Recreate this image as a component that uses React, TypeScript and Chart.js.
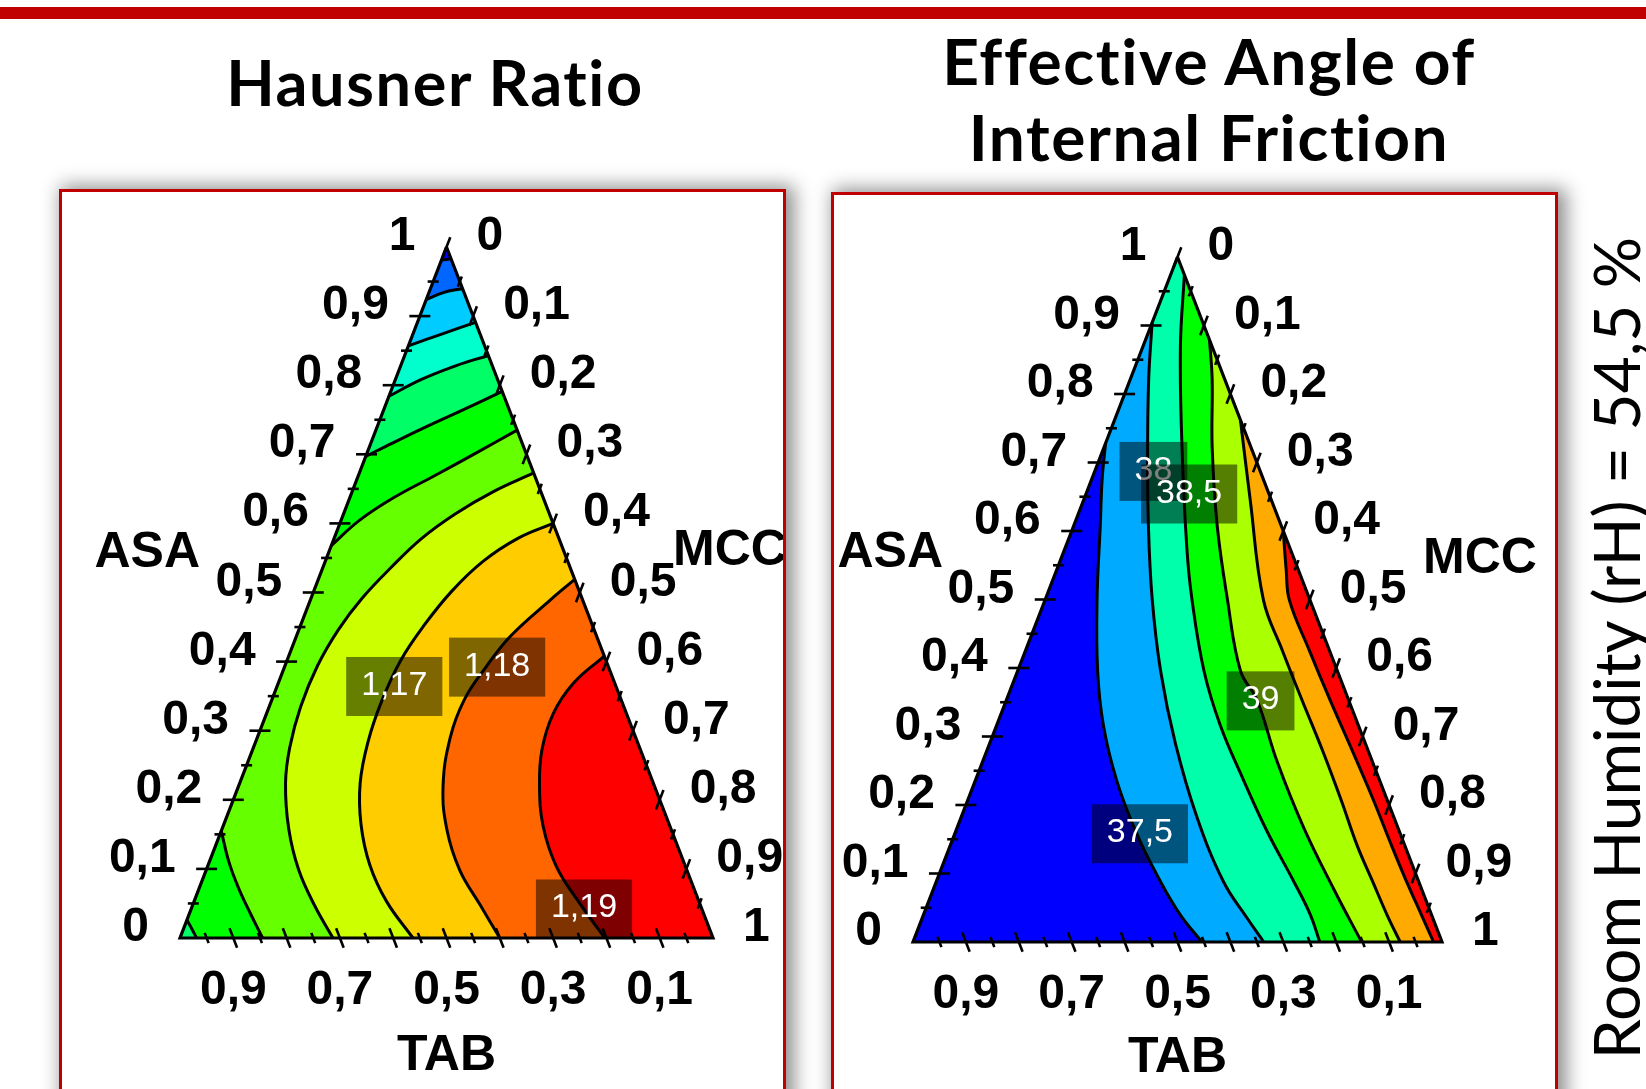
import React, { useEffect, useRef } from "react";
import { Chart, registerables } from "chart.js";

Chart.register(...registerables);

type Pt = [number, number]; // [ASA fraction, MCC fraction]; TAB = 1 - ASA - MCC

// ================= ternary axis ticks and labels =================
const ASA_TICK_VALUES = [0.05, 0.1, 0.15, 0.2, 0.25, 0.3, 0.35, 0.4, 0.45, 0.5, 0.55, 0.6, 0.65, 0.7, 0.75, 0.8, 0.85, 0.9, 0.95];
const MCC_TICK_VALUES = [0, 0.05, 0.1, 0.15, 0.2, 0.25, 0.3, 0.35, 0.4, 0.45, 0.5, 0.55, 0.6, 0.65, 0.7, 0.75, 0.8, 0.85, 0.9, 0.95];
const TAB_TICK_VALUES = [0.05, 0.1, 0.15, 0.2, 0.25, 0.3, 0.35, 0.4, 0.45, 0.5, 0.55, 0.6, 0.65, 0.7, 0.75, 0.8, 0.85, 0.9, 0.95];
const ASA_LABEL_VALUES = [0, 0.1, 0.2, 0.3, 0.4, 0.5, 0.6, 0.7, 0.8, 0.9, 1];
const ASA_LABELS = ["0", "0,1", "0,2", "0,3", "0,4", "0,5", "0,6", "0,7", "0,8", "0,9", "1"];
const MCC_LABEL_VALUES = [0, 0.1, 0.2, 0.3, 0.4, 0.5, 0.6, 0.7, 0.8, 0.9, 1];
const MCC_LABELS = ["0", "0,1", "0,2", "0,3", "0,4", "0,5", "0,6", "0,7", "0,8", "0,9", "1"];
const TAB_LABEL_VALUES = [0.9, 0.7, 0.5, 0.3, 0.1];
const TAB_LABELS = ["0,9", "0,7", "0,5", "0,3", "0,1"];

// ================= Hausner Ratio contour lines ([ASA, MCC]) =================
const hr110: Pt[] = [[0.981, 0], [0.982, 0.009], [0.983, 0.017]];
const hr111: Pt[] = [[0.924, 0], [0.934, 0.027], [0.94, 0.06]];
const hr112: Pt[] = [[0.857, 0], [0.874, 0.054], [0.891, 0.109]];
const hr113: Pt[] = [[0.784, 0], [0.808, 0.048], [0.828, 0.103], [0.843, 0.157]];
const hr114a: Pt[] = [[0.697, 0], [0.717, 0.042], [0.741, 0.095], [0.766, 0.153], [0.791, 0.209]];
const hr115a: Pt[] = [[0.568, 0], [0.604, 0.034], [0.637, 0.082], [0.669, 0.143], [0.702, 0.205], [0.735, 0.265]];
const hr116: Pt[] = [
  [0.673, 0.327], [0.646, 0.265], [0.614, 0.21], [0.578, 0.164], [0.535, 0.127], [0.492, 0.096],
  [0.446, 0.074], [0.394, 0.061], [0.335, 0.059], [0.276, 0.068], [0.224, 0.086], [0.158, 0.125],
  [0.099, 0.173], [0.047, 0.229], [0, 0.287],
];
const hr117: Pt[] = [
  [0.6, 0.4], [0.578, 0.344], [0.545, 0.296], [0.502, 0.259], [0.453, 0.232], [0.401, 0.213],
  [0.342, 0.207], [0.283, 0.211], [0.224, 0.226], [0.165, 0.257], [0.106, 0.303], [0.053, 0.361], [0, 0.437],
];
const hr118: Pt[] = [
  [0.519, 0.481], [0.489, 0.45], [0.436, 0.401], [0.392, 0.378], [0.345, 0.361], [0.29, 0.362],
  [0.219, 0.384], [0.156, 0.423], [0.098, 0.476], [0.048, 0.539], [0, 0.6],
];
const hr119: Pt[] = [
  [0.408, 0.592], [0.369, 0.554], [0.325, 0.538], [0.272, 0.543], [0.219, 0.565], [0.161, 0.601],
  [0.103, 0.655], [0.05, 0.725], [0, 0.797],
];
const hr115b: Pt[] = [[0.155, 0], [0.112, 0.035], [0.073, 0.073], [0.034, 0.116], [0, 0.155]];
const hr114b: Pt[] = [[0.026, 0], [0.012, 0.017], [0, 0.031]];

const HR_LABEL_LEVELS = [1.17, 1.18, 1.19];
const HR_LABEL_POSITIONS: Pt[] = [[0.364, 0.22], [0.392, 0.399], [0.042, 0.737]];

// ============ Effective Angle of Internal Friction contour lines ============
const fa375: Pt[] = [
  [0.728, 0], [0.675, 0.02], [0.608, 0.05], [0.502, 0.097], [0.396, 0.151], [0.316, 0.202],
  [0.236, 0.267], [0.157, 0.345], [0.088, 0.424], [0.04, 0.485], [0, 0.546],
];
const fa380: Pt[] = [
  [0.904, 0], [0.821, 0.035], [0.715, 0.086], [0.608, 0.141], [0.502, 0.201], [0.396, 0.27],
  [0.29, 0.351], [0.183, 0.445], [0.088, 0.543], [0.035, 0.614], [0, 0.663],
];
const fa385: Pt[] = [
  [0.974, 0.026], [0.869, 0.071], [0.723, 0.147], [0.577, 0.229], [0.502, 0.276], [0.396, 0.352],
  [0.316, 0.423], [0.236, 0.507], [0.162, 0.588], [0.088, 0.676], [0.04, 0.731], [0, 0.769],
];
const fa390: Pt[] = [
  [0.879, 0.121], [0.821, 0.155], [0.723, 0.204], [0.608, 0.271], [0.502, 0.343], [0.396, 0.421],
  [0.353, 0.474], [0.263, 0.557], [0.167, 0.655], [0.077, 0.757], [0, 0.848],
];
const fa395: Pt[] = [
  [0.762, 0.238], [0.645, 0.315], [0.499, 0.413], [0.426, 0.485], [0.353, 0.559], [0.28, 0.634],
  [0.207, 0.706], [0.141, 0.769], [0.09, 0.823], [0.039, 0.877], [0, 0.921],
];
const fa400: Pt[] = [
  [0.6, 0.4], [0.543, 0.434], [0.499, 0.462], [0.426, 0.536], [0.353, 0.612], [0.28, 0.69],
  [0.207, 0.767], [0.141, 0.834], [0.09, 0.887], [0.039, 0.942], [0, 0.984],
];

const FA_LABEL_LEVELS = [37.5, 38, 38.5, 39];
const FA_LABEL_POSITIONS: Pt[] = [[0.158, 0.35], [0.687, 0.111], [0.654, 0.195], [0.352, 0.481]];

// ================= panel descriptions =================
type Corner = "T" | "BL" | "BR";
interface Region { line: Pt[]; corner: Corner; color: string }
interface Panel {
  key: string;
  box: { left: number; top: number; width: number; height: number };
  pad: { left: number; right: number; top: number; bottom: number };
  baseColor: string;
  regions: Region[];
  lines: Pt[][];
  labelLevels: number[];
  labelPositions: Pt[];
  asaTitle: { dx: number; dy: number };
  mccTitle: { dx: number; dy: number };
  tabTitle: { dy: number };
}

const PANELS: Panel[] = [
  {
    key: "hausner",
    box: { left: 59, top: 189, width: 727, height: 960 },
    pad: { left: 118, right: 70, top: 55, bottom: 208 },
    baseColor: "#66FF00",
    regions: [
      { line: hr116, corner: "BR", color: "#CCFF00" },
      { line: hr117, corner: "BR", color: "#FFCC00" },
      { line: hr118, corner: "BR", color: "#FF6600" },
      { line: hr119, corner: "BR", color: "#FF0000" },
      { line: hr115a, corner: "T", color: "#00FF00" },
      { line: hr114a, corner: "T", color: "#00FF66" },
      { line: hr113, corner: "T", color: "#00FFCC" },
      { line: hr112, corner: "T", color: "#00CCFF" },
      { line: hr111, corner: "T", color: "#0066FF" },
      { line: hr110, corner: "T", color: "#0000FF" },
      { line: hr115b, corner: "BL", color: "#00FF00" },
      { line: hr114b, corner: "BL", color: "#00FF66" },
    ],
    lines: [hr110, hr111, hr112, hr113, hr114a, hr115a, hr116, hr117, hr118, hr119, hr115b, hr114b],
    labelLevels: HR_LABEL_LEVELS,
    labelPositions: HR_LABEL_POSITIONS,
    asaTitle: { dx: 20, dy: -371 },
    mccTitle: { dx: -40, dy: -373 },
    tabTitle: { dy: 132 },
  },
  {
    key: "friction",
    box: { left: 831, top: 192, width: 727, height: 960 },
    pad: { left: 79, right: 113, top: 62, bottom: 207 },
    baseColor: "#00FFAA",
    regions: [
      { line: fa380, corner: "BL", color: "#00AAFF" },
      { line: fa375, corner: "BL", color: "#0000FF" },
      { line: fa385, corner: "BR", color: "#00FF00" },
      { line: fa390, corner: "BR", color: "#AAFF00" },
      { line: fa395, corner: "BR", color: "#FFAA00" },
      { line: fa400, corner: "BR", color: "#FF0000" },
    ],
    lines: [fa375, fa380, fa385, fa390, fa395, fa400],
    labelLevels: FA_LABEL_LEVELS,
    labelPositions: FA_LABEL_POSITIONS,
    asaTitle: { dx: 30, dy: -375 },
    mccTitle: { dx: -19, dy: -369 },
    tabTitle: { dy: 130 },
  },
];

const CORNERS: Record<Corner, Pt> = { T: [1, 0], BL: [0, 0], BR: [0, 1] };
const toXY = ([a, m]: Pt) => ({ x: m + a / 2, y: a });
const AXIS_FONT = '"Liberation Sans", Arial, sans-serif';

function makeTernaryPlugin(panel: Panel) {
  return {
    id: "ternaryAxes",
    afterDatasetsDraw(chart: any) {
      const ctx: CanvasRenderingContext2D = chart.ctx;
      const xs = chart.scales.x;
      const ys = chart.scales.y;
      const P = (a: number, m: number): [number, number] => [xs.getPixelForValue(m + a / 2), ys.getPixelForValue(a)];
      const T = P(1, 0);
      const BL = P(0, 0);
      const BR = P(0, 1);
      const unit = (p: number[], q: number[]) => {
        const dx = q[0] - p[0];
        const dy = q[1] - p[1];
        const l = Math.hypot(dx, dy);
        return [dx / l, dy / l];
      };
      const dirLeft = unit(BL, T);
      const dirRight = unit(T, BR);
      const isMajor = (v: number) => Math.round(v * 100) % 10 === 0;

      ctx.save();
      ctx.strokeStyle = "#000";
      ctx.lineWidth = 2.6;
      ctx.lineCap = "butt";
      const tick = (p: number[], d: number[], len: number) => {
        ctx.beginPath();
        ctx.moveTo(p[0] - d[0] * len, p[1] - d[1] * len);
        ctx.lineTo(p[0] + d[0] * len, p[1] + d[1] * len);
        ctx.stroke();
      };
      ASA_TICK_VALUES.forEach((v) => tick(P(v, 0), [1, 0], isMajor(v) ? 10.5 : 5.5));
      MCC_TICK_VALUES.forEach((v) => tick(P(1 - v, v), dirLeft, isMajor(v) ? 10.5 : 5.5));
      TAB_TICK_VALUES.forEach((v) => tick(P(0, 1 - v), dirRight, isMajor(v) ? 10.5 : 5.5));

      ctx.fillStyle = "#000";
      ctx.textBaseline = "alphabetic";
      ctx.font = `bold 48px ${AXIS_FONT}`;
      ctx.textAlign = "right";
      ASA_LABEL_VALUES.forEach((v, i) => {
        const p = P(v, 0);
        ctx.fillText(ASA_LABELS[i], p[0] - 31, p[1] + 3);
      });
      ctx.textAlign = "left";
      MCC_LABEL_VALUES.forEach((v, i) => {
        const p = P(1 - v, v);
        ctx.fillText(MCC_LABELS[i], p[0] + 30, p[1] + 3);
      });
      ctx.textAlign = "center";
      TAB_LABEL_VALUES.forEach((v, i) => {
        const p = P(0, 1 - v);
        ctx.fillText(TAB_LABELS[i], p[0], p[1] + 66);
      });

      ctx.font = `bold 50px ${AXIS_FONT}`;
      ctx.textAlign = "right";
      ctx.fillText("ASA", BL[0] + panel.asaTitle.dx, BL[1] + panel.asaTitle.dy);
      ctx.textAlign = "left";
      ctx.fillText("MCC", BR[0] + panel.mccTitle.dx, BR[1] + panel.mccTitle.dy);
      ctx.textAlign = "center";
      ctx.fillText("TAB", T[0], BL[1] + panel.tabTitle.dy);

      // contour value labels
      ctx.font = `34px ${AXIS_FONT}`;
      panel.labelLevels.forEach((lv, i) => {
        const [a, m] = panel.labelPositions[i];
        const p = P(a, m);
        const text = String(lv).replace(".", ",");
        const w = ctx.measureText(text).width + 30;
        const h = 59;
        ctx.fillStyle = "rgba(0,0,0,0.5)";
        ctx.fillRect(p[0] - w / 2, p[1] - h / 2, w, h);
        ctx.fillStyle = "#fff";
        ctx.textAlign = "center";
        ctx.fillText(text, p[0], p[1] + 8.5);
      });
      ctx.restore();
    },
  };
}

function buildConfig(panel: Panel): any {
  const paint: any[] = [];
  paint.push({
    data: [CORNERS.T, CORNERS.BR, CORNERS.BL].map(toXY),
    backgroundColor: panel.baseColor,
    borderColor: "rgba(0,0,0,0)",
    borderWidth: 1,
    fill: "shape",
    tension: 0,
  });
  panel.regions.forEach((r) => {
    paint.push({
      data: [...r.line, CORNERS[r.corner]].map(toXY),
      backgroundColor: r.color,
      borderColor: "rgba(0,0,0,0)",
      borderWidth: 1,
      fill: "shape",
      tension: 0,
    });
  });
  panel.lines.forEach((l) => {
    paint.push({
      data: l.map(toXY),
      borderColor: "#000",
      borderWidth: 3,
      fill: false,
      tension: 0.4,
    });
  });
  paint.push({
    data: [CORNERS.T, CORNERS.BR, CORNERS.BL, CORNERS.T].map(toXY),
    borderColor: "#000",
    borderWidth: 3.2,
    fill: false,
    tension: 0,
    borderJoinStyle: "miter",
  });
  const n = paint.length;
  const datasets = paint.map((d, i) => ({
    pointRadius: 0,
    pointHoverRadius: 0,
    clip: false,
    order: n - i,
    ...d,
  }));
  return {
    type: "line",
    data: { datasets },
    options: {
      responsive: false,
      maintainAspectRatio: false,
      animation: false,
      events: [],
      layout: { padding: panel.pad },
      scales: {
        x: { type: "linear", min: 0, max: 1, display: false },
        y: { type: "linear", min: 0, max: 1, display: false },
      },
      plugins: {
        legend: { display: false },
        tooltip: { enabled: false },
        title: { display: false },
      },
    },
    plugins: [makeTernaryPlugin(panel)],
  };
}

function TernaryPanel({ panel }: { panel: Panel }) {
  const ref = useRef<HTMLCanvasElement>(null);
  useEffect(() => {
    if (!ref.current) return;
    const chart = new Chart(ref.current, buildConfig(panel));
    return () => chart.destroy();
  }, [panel]);
  const innerW = panel.box.width - 6;
  const innerH = panel.box.height - 6;
  return (
    <div
      style={{
        position: "absolute",
        left: panel.box.left,
        top: panel.box.top,
        width: panel.box.width,
        height: panel.box.height,
        boxSizing: "border-box",
        border: "3px solid #C00000",
        background: "#fff",
        boxShadow: "5px 0px 18px 3px rgba(0,0,0,0.45)",
        overflow: "hidden",
      }}
    >
      <canvas ref={ref} width={innerW} height={innerH} style={{ display: "block", width: innerW, height: innerH }} />
    </div>
  );
}

export default function App() {
  const titleStyle: React.CSSProperties = {
    position: "absolute",
    fontFamily: "Lato, 'Open Sans', sans-serif",
    fontWeight: 700,
    textAlign: "center",
    color: "#000",
    whiteSpace: "nowrap",
    letterSpacing: "1.6px",
  };
  return (
    <div style={{ position: "absolute", left: 0, top: 0, width: 1646, height: 1089, overflow: "hidden", background: "#fff" }}>
      <div style={{ position: "absolute", left: 0, top: 7, width: 1646, height: 12, background: "#C00000" }} />
      <div style={{ ...titleStyle, left: 35, top: 44, width: 800, fontSize: 63, lineHeight: "76px" }}>Hausner Ratio</div>
      <div style={{ ...titleStyle, left: 809, top: 23, width: 800, fontSize: 64, lineHeight: "76px" }}>
        Effective Angle of
        <br />
        Internal Friction
      </div>
      {PANELS.map((p) => (
        <TernaryPanel key={p.key} panel={p} />
      ))}
      <div
        style={{
          position: "absolute",
          left: 1616 - 460,
          top: 648 - 32,
          width: 920,
          height: 64,
          fontFamily: "Lato, 'Open Sans', sans-serif",
          fontWeight: 400,
          fontSize: 64,
          lineHeight: "64px",
          textAlign: "center",
          whiteSpace: "nowrap",
          transform: "rotate(-90deg)",
          transformOrigin: "50% 50%",
          color: "#000",
        }}
      >
        Room Humidity (rH) = 54,5 %
      </div>
    </div>
  );
}
